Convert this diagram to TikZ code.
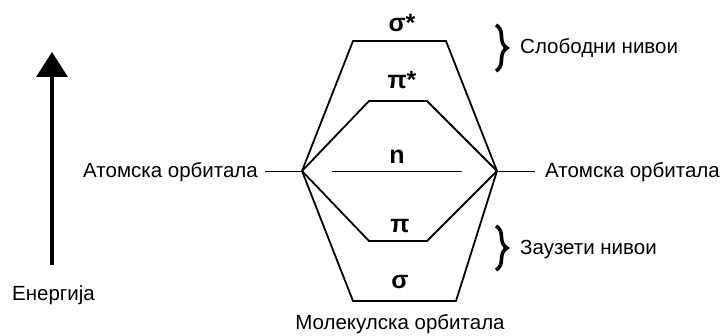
\documentclass[tikz,border=0pt]{standalone}
\usepackage{fontspec}
\setmainfont{Liberation Sans}
\usetikzlibrary{arrows.meta,decorations.pathreplacing}
\tikzset{
  level/.style={line width=1.8pt,line join=miter},
  atomline/.style={line width=0.8pt},
  lbl/.style={inner sep=0pt,font=\fontsize{20.5}{23}\selectfont},
  grk/.style={inner sep=0pt,font=\fontsize{25}{28}\selectfont\bfseries},
  brc/.style={decorate,decoration={brace,amplitude=11pt},line width=3.6pt}
}
\begin{document}
\begin{tikzpicture}[x=1pt,y=-1pt]
\useasboundingbox (0,0) rectangle (720,336);
% energy axis
\coordinate (ebot) at (52,265);
\coordinate (etop) at (52,52);
\draw [line width=3.5pt,-{Triangle[width=31pt,length=25pt]}] (ebot) -- (etop);
\node [lbl,anchor=west] (energy) at (12,295) {Енергија};
% atomic orbitals
\coordinate (L) at (302,171);
\coordinate (R) at (497,171);
\coordinate (Lout) at (265,171);
\coordinate (Rout) at (535,171);
\draw [atomline] (Lout) -- (L);
\draw [atomline] (R) -- (Rout);
\node [lbl,anchor=east] (aoleft) at (258,172) {Атомска орбитала};
\node [lbl,anchor=west] (aoright) at (545,172) {Атомска орбитала};
% molecular levels
\coordinate (s1) at (353,41);  \coordinate (s2) at (446,41);
\coordinate (p1) at (369,101); \coordinate (p2) at (427,101);
\coordinate (n1) at (332,171); \coordinate (n2) at (462,171);
\coordinate (q1) at (369,241); \coordinate (q2) at (427,241);
\coordinate (t1) at (353,301); \coordinate (t2) at (456,301);
\draw [level] (L) -- (s1) -- (s2) -- (R);
\draw [level] (L) -- (p1) -- (p2) -- (R);
\draw [level] (L) -- (q1) -- (q2) -- (R);
\draw [level] (L) -- (t1) -- (t2) -- (R);
\draw [atomline] (n1) -- (n2);
\node [grk] (sstar) at (402,23) {σ*};
\node [grk] (pstar) at (402,80) {π*};
\node [grk] (nlev) at (397,157) {n};
\node [grk] (pi) at (400,226) {π};
\node [grk] (sigma) at (400,282) {σ};
\node [lbl] (mo) at (400,324) {Молекулска орбитала};
% braces
\coordinate (b1) at (496,25);  \coordinate (b2) at (496,71);
\coordinate (b3) at (496,226); \coordinate (b4) at (496,270);
\draw [brc] (b1) -- (b2);
\draw [brc] (b3) -- (b4);
\node [lbl,anchor=west] (free) at (520,48) {Слободни нивои};
\node [lbl,anchor=west] (occ) at (520,249) {Заузети нивои};
\end{tikzpicture}
\end{document}
